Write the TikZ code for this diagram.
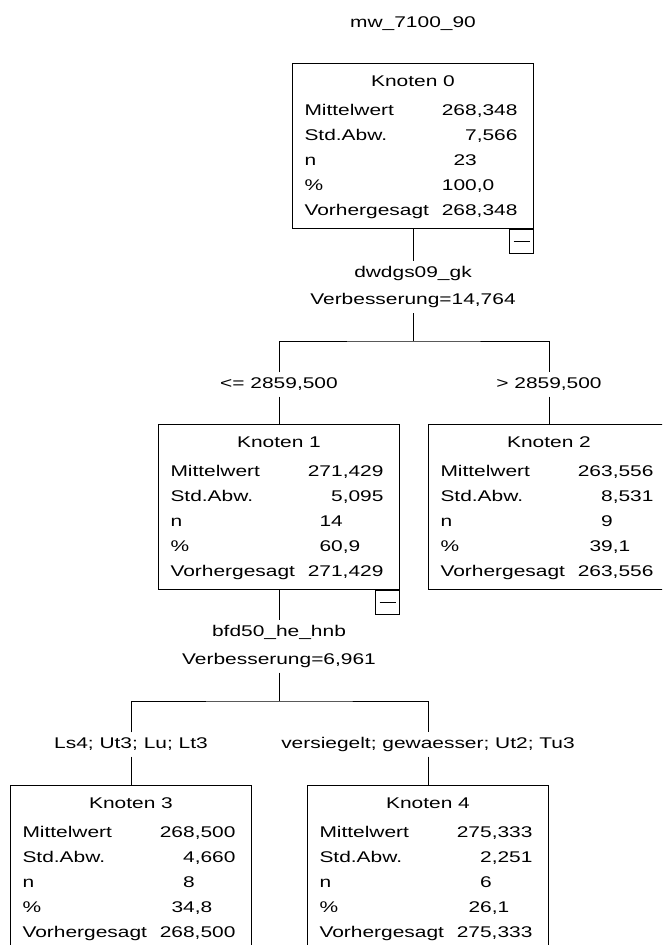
\documentclass[tikz,border=0pt]{standalone}
\usepackage{fontspec}
\setmainfont{Liberation Sans}[FakeStretch=1.35]
\usepackage{array}
\usetikzlibrary{positioning}
\tikzset{
  knoten/.style={draw,line width=1pt,inner xsep=0pt,inner ysep=5.5pt,anchor=north},
  minusbox/.style={draw,line width=1pt,minimum size=24pt,inner sep=0pt,anchor=north east},
  cond/.style={anchor=base,inner xsep=2pt,inner ysep=5pt,text height=11pt,text depth=3pt},
  split/.style={align=center,inner sep=5pt,font=\fontsize{15.5}{27.5}\selectfont},
  edge/.style={line width=1pt},
}
\newcommand{\knotentab}[5]{%
  \begin{tabular*}{241pt}{@{\hspace{12pt}}l@{\extracolsep{\fill}}r@{\hspace{16pt}}}
  \multicolumn{2}{@{}c@{}}{Knoten #1}\\[4pt]
  Mittelwert & #2\\
  Std.Abw. & #3\\
  n & #4\phantom{,000}\\
  \% & #5\phantom{00}\\
  Vorhergesagt & #2
  \end{tabular*}}

\begin{document}
\begin{tikzpicture}[x=1pt,y=1pt,font=\fontsize{15.5}{25}\selectfont]
\useasboundingbox (0,0) rectangle (662,-945);
\clip (0,0) rectangle (662,-945);
\node[anchor=base] (titel) at (413,-27) {mw\_7100\_90};
\node[knoten] (k0) at (413,-63) {\knotentab{0}{268,348}{7,566}{23}{100,0}};
\node[minusbox] (m0) at (k0.south east) {\rule{16pt}{1pt}};
\node[split] (s0) at (413,-287) {dwdgs09\_gk\\Verbesserung=14,764};
\coordinate (fork0) at (413,-341);
\node[cond] (c1) at (279,-388.5) {<= 2859,500};
\node[cond] (c2) at (549,-388.5) {> 2859,500};
\node[knoten] (k1) at (279,-424) {\knotentab{1}{271,429}{5,095}{14}{60,9}};
\node[minusbox] (m1) at (k1.south east) {\rule{16pt}{1pt}};
\node[knoten] (k2) at (549,-424) {\knotentab{2}{263,556}{8,531}{9}{39,1}};
\node[split] (s1) at (279,-646.5) {bfd50\_he\_hnb\\Verbesserung=6,961};
\coordinate (fork1) at (279,-701);
\node[cond] (c3) at (131,-748.5) {Ls4; Ut3; Lu; Lt3};
\node[cond] (c4) at (428,-748.5) {versiegelt; gewaesser; Ut2; Tu3};
\node[knoten] (k3) at (131,-785) {\knotentab{3}{268,500}{4,660}{8}{34,8}};
\node[knoten] (k4) at (428,-785) {\knotentab{4}{275,333}{2,251}{6}{26,1}};

\draw[edge] (k0.south) -- (s0.north);
\draw[edge] (s0.south) -- (fork0);
\draw[edge] (c1.north) |- (fork0) -| (c2.north);
\draw[edge] (c1.south) -- (k1.north);
\draw[edge] (c2.south) -- (k2.north);
\draw[edge] (k1.south) -- (s1.north);
\draw[edge] (s1.south) -- (fork1);
\draw[edge] (c3.north) |- (fork1) -| (c4.north);
\draw[edge] (c3.south) -- (k3.north);
\draw[edge] (c4.south) -- (k4.north);
\end{tikzpicture}
\end{document}
